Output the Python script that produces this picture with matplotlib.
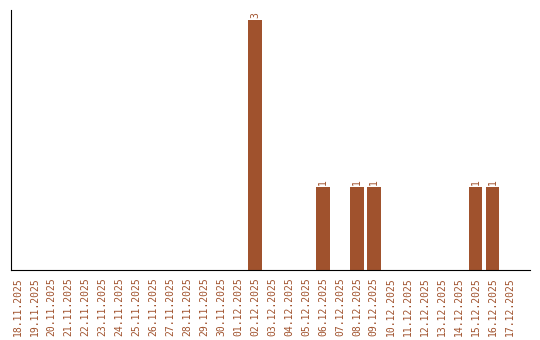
import matplotlib
matplotlib.use("Agg")
import matplotlib.pyplot as plt
import numpy as np

dates = ["18.11.2025", "19.11.2025", "20.11.2025", "21.11.2025", "22.11.2025",
         "23.11.2025", "24.11.2025", "25.11.2025", "26.11.2025", "27.11.2025",
         "28.11.2025", "29.11.2025", "30.11.2025", "01.12.2025", "02.12.2025",
         "03.12.2025", "04.12.2025", "05.12.2025", "06.12.2025", "07.12.2025",
         "08.12.2025", "09.12.2025", "10.12.2025", "11.12.2025", "12.12.2025",
         "13.12.2025", "14.12.2025", "15.12.2025", "16.12.2025", "17.12.2025"]
values = [0, 0, 0, 0, 0, 0, 0, 0, 0, 0, 0, 0, 0, 0, 3,
          0, 0, 0, 1, 0, 1, 1, 0, 0, 0, 0, 0, 1, 1, 0]

color = "#A0522D"
fig = plt.figure(figsize=(5.4, 3.4), dpi=100)
ax = fig.add_axes([11/540, 1-270/340, 519/540, 260/340])
x = np.arange(len(dates))
ax.bar(x, values, width=0.8, color=color)
for xi, v in zip(x, values):
    if v > 0:
        ax.text(xi, v + 0.02, str(v), rotation=90, ha="center", va="bottom",
                color=color, fontsize=7, family="DejaVu Sans Mono")
ax.set_xlim(-0.38, 30.2)
ax.set_ylim(0, 3.12)
ax.set_xticks(x)
ax.set_xticklabels(dates, rotation=90, color=color, fontsize=7, family="DejaVu Sans Mono")
ax.tick_params(axis="x", length=0, pad=5)
ax.set_yticks([])
ax.spines["top"].set_visible(False)
ax.spines["right"].set_visible(False)
fig.savefig("out.png", dpi=100)
